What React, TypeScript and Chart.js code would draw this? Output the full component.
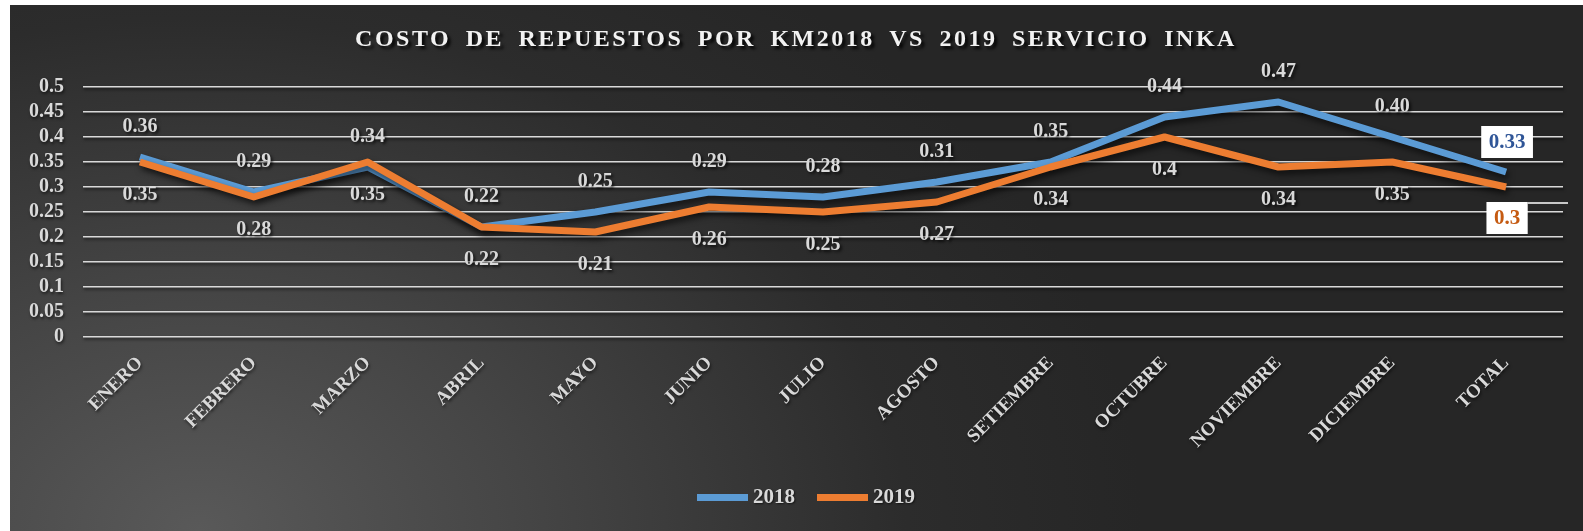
import React, { useEffect, useRef } from 'react';
import { Chart, registerables } from 'chart.js';

Chart.register(...registerables);

const titleText = 'COSTO DE REPUESTOS POR KM2018 VS 2019 SERVICIO INKA';
const categories = ['ENERO', 'FEBRERO', 'MARZO', 'ABRIL', 'MAYO', 'JUNIO', 'JULIO', 'AGOSTO', 'SETIEMBRE', 'OCTUBRE', 'NOVIEMBRE', 'DICIEMBRE', 'TOTAL'];
const values2018 = [0.36, 0.29, 0.34, 0.22, 0.25, 0.29, 0.28, 0.31, 0.35, 0.44, 0.47, 0.40, 0.33];
const values2019 = [0.35, 0.28, 0.35, 0.22, 0.21, 0.26, 0.25, 0.27, 0.34, 0.4, 0.34, 0.35, 0.3];
const labels2018 = ['0.36', '0.29', '0.34', '0.22', '0.25', '0.29', '0.28', '0.31', '0.35', '0.44', '0.47', '0.40', '0.33'];
const labels2019 = ['0.35', '0.28', '0.35', '0.22', '0.21', '0.26', '0.25', '0.27', '0.34', '0.4', '0.34', '0.35', '0.3'];
const seriesNames = ['2018', '2019'];
const yMin = 0;
const yMax = 0.5;
const yStep = 0.05;

const FONT = '"Liberation Serif", "Times New Roman", serif';
const COLOR_2018 = '#5b9bd5';
const COLOR_2019 = '#ed7d31';
const TEXT = '#d9d9d9';

const decorPlugin = {
  id: 'decor',
  beforeDraw(chart: any) {
    const c = chart.ctx;
    c.save();
    c.shadowColor = 'rgba(0,0,0,0.6)';
    c.shadowBlur = 3;
    c.shadowOffsetX = 1;
    c.shadowOffsetY = 2;
  },
  beforeDatasetsDraw(chart: any) {
    const c = chart.ctx;
    c.save();
    c.shadowColor = 'rgba(0,0,0,0.6)';
    c.shadowBlur = 6;
    c.shadowOffsetX = 2;
    c.shadowOffsetY = 4;
  },
  afterDatasetsDraw(chart: any) {
    chart.ctx.restore();
  },
  afterDraw(chart: any) {
    const c = chart.ctx;
    c.restore();
    // title
    c.save();
    c.font = `bold 24px ${FONT}`;
    (c as any).letterSpacing = '2.5px';
    (c as any).wordSpacing = '6px';
    c.textAlign = 'center';
    c.textBaseline = 'middle';
    c.shadowColor = 'rgba(0,0,0,0.85)';
    c.shadowBlur = 3;
    c.shadowOffsetX = 3;
    c.shadowOffsetY = 3;
    c.fillStyle = '#f2f2f2';
    c.fillText(titleText, 786, 35);
    c.restore();

    // legend (drawn manually for exact placement)
    const legendColors = [COLOR_2018, COLOR_2019];
    const legendX = [687, 807];
    c.save();
    c.font = `bold 21px ${FONT}`;
    c.textAlign = 'left';
    c.textBaseline = 'middle';
    seriesNames.forEach((name, i) => {
      c.fillStyle = legendColors[i];
      c.fillRect(legendX[i], 489, 51, 7);
      c.fillStyle = TEXT;
      c.shadowColor = 'rgba(0,0,0,0.6)';
      c.shadowBlur = 2;
      c.shadowOffsetX = 1;
      c.shadowOffsetY = 1;
      c.fillText(name, legendX[i] + 56, 493);
      c.shadowColor = 'rgba(0,0,0,0)';
    });
    c.restore();

    const last = categories.length - 1;
    const cfgs = [
      { ds: 0, labels: labels2018, dy: -30, boxColor: '#2f5597' },
      { ds: 1, labels: labels2019, dy: 33, boxColor: '#c55a11' },
    ];
    cfgs.forEach((cfg) => {
      const meta = chart.getDatasetMeta(cfg.ds);
      meta.data.forEach((pt: any, i: number) => {
        const txt = cfg.labels[i];
        c.save();
        c.textAlign = 'center';
        c.textBaseline = 'middle';
        if (i === last) {
          c.font = `bold 21px ${FONT}`;
          const w = c.measureText(txt).width + 15;
          const h = 32;
          const cx = pt.x + 1;
          const cy = pt.y + (cfg.ds === 0 ? -30 : 31);
          c.fillStyle = '#ffffff';
          c.fillRect(cx - w / 2, cy - h / 2, w, h);
          if (cfg.ds === 1) {
            c.strokeStyle = '#ffffff';
            c.lineWidth = 1.5;
            c.beginPath();
            c.moveTo(cx + w / 2, cy - h / 2 + 1);
            c.lineTo(1558, cy - h / 2 + 1);
            c.stroke();
          }
          c.fillStyle = cfg.boxColor;
          c.fillText(txt, cx, cy + 1);
        } else {
          c.font = `bold 20px ${FONT}`;
          c.shadowColor = 'rgba(0,0,0,0.7)';
          c.shadowBlur = 3;
          c.shadowOffsetX = 2;
          c.shadowOffsetY = 2;
          c.fillStyle = TEXT;
          c.fillText(txt, pt.x, pt.y + cfg.dy);
        }
        c.restore();
      });
    });
  },
};

export default function App() {
  const ref = useRef<HTMLCanvasElement | null>(null);
  useEffect(() => {
    if (!ref.current) return;
    const chart = new Chart(ref.current, {
      type: 'line',
      data: {
        labels: categories,
        datasets: [
          {
            label: seriesNames[0],
            data: values2018,
            borderColor: COLOR_2018,
            backgroundColor: COLOR_2018,
            borderWidth: 7,
            pointRadius: 0,
            tension: 0,
            borderJoinStyle: 'round',
            order: 2,
          },
          {
            label: seriesNames[1],
            data: values2019,
            borderColor: COLOR_2019,
            backgroundColor: COLOR_2019,
            borderWidth: 7,
            pointRadius: 0,
            tension: 0,
            borderJoinStyle: 'round',
            order: 1,
          },
        ],
      },
      options: {
        animation: false,
        responsive: true,
        maintainAspectRatio: false,
        layout: { padding: { left: 0, right: 20, top: 82, bottom: 64 } },
        plugins: {
          title: { display: false },
          tooltip: { enabled: false },
          legend: { display: false },
        },
        scales: {
          x: {
            offset: true,
            grid: { display: false, drawTicks: false },
            border: { display: false },
            ticks: {
              color: TEXT,
              font: { family: FONT, size: 19, weight: 'bold' },
              minRotation: 45,
              maxRotation: 45,
              padding: 15,
              autoSkip: false,
            },
            afterFit: (s: any) => {
              s.height = 130;
            },
          },
          y: {
            min: yMin,
            max: yMax,
            grid: { color: '#d9d9d9', lineWidth: 1.5, drawTicks: false },
            border: { display: false },
            ticks: {
              stepSize: yStep,
              autoSkip: false,
              color: TEXT,
              font: { family: FONT, size: 20, weight: 'bold' },
              padding: 19,
              callback: (v: any) => String(Math.round(Number(v) * 100) / 100),
            },
            afterFit: (s: any) => {
              s.width = 73;
            },
          },
        },
      },
      plugins: [decorPlugin],
    });
    return () => chart.destroy();
  }, []);

  return (
    <div
      style={{
        position: 'absolute',
        left: 10,
        top: 5,
        width: 1573,
        height: 526,
        background:
          'radial-gradient(ellipse 60% 130% at 12% 100%, #595959 0%, #454545 35%, #2c2c2c 75%, #262626 100%)',
      }}
    >
      <canvas ref={ref} />
    </div>
  );
}
